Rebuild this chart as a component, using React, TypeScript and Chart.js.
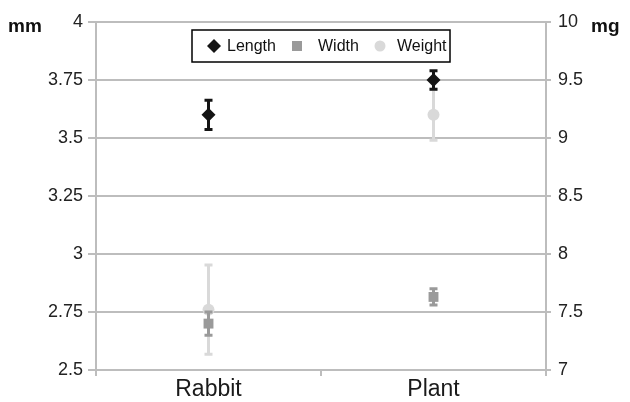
import React, { useEffect, useRef } from 'react';
import { Chart, registerables } from 'chart.js';

Chart.register(...registerables);

const categories = ['Rabbit', 'Plant'];

const lengthMean = [3.6, 3.75];
const lengthErr = [0.063, 0.04];
const widthMean = [2.7, 2.815];
const widthErr = [0.05, 0.035];
const weightMean = [7.52, 9.2];
const weightErr = [0.385, 0.22];

const leftTickValues = [2.5, 2.75, 3, 3.25, 3.5, 3.75, 4];
const rightTickValues = [7, 7.5, 8, 8.5, 9, 9.5, 10];

const seriesNames = ['Length', 'Width', 'Weight'];
const unitLeft = 'mm';
const unitRight = 'mg';

const FONT = "'Liberation Sans', Arial, Helvetica, sans-serif";
const GRID = '#bdbdbd';
const C_LEN = '#141414';
const C_WID = '#9a9a9a';
const C_WEI = '#d9d9d9';

const errorBarPlugin = {
  id: 'errorBars',
  beforeDatasetDraw(chart: any, args: any) {
    const ds = chart.data.datasets[args.index];
    const errs = ds.errors;
    if (!errs) return;
    const meta = args.meta;
    const yScale = chart.scales[meta.yAxisID];
    const ctx = chart.ctx;
    ctx.save();
    ctx.strokeStyle = ds.errorColor;
    ctx.lineWidth = 3;
    meta.data.forEach((el: any, i: number) => {
      const v = ds.data[i];
      const e = errs[i];
      const top = yScale.getPixelForValue(v + e);
      const bot = yScale.getPixelForValue(v - e);
      const x = el.x;
      ctx.beginPath();
      ctx.moveTo(x, top);
      ctx.lineTo(x, bot);
      ctx.moveTo(x - 4, top);
      ctx.lineTo(x + 4, top);
      ctx.moveTo(x - 4, bot);
      ctx.lineTo(x + 4, bot);
      ctx.stroke();
    });
    ctx.restore();
  },
};

function drawMarker(ctx: CanvasRenderingContext2D, style: string, x: number, y: number, color: string) {
  ctx.fillStyle = color;
  ctx.beginPath();
  if (style === 'rectRot') {
    ctx.moveTo(x, y - 7);
    ctx.lineTo(x + 7, y);
    ctx.lineTo(x, y + 7);
    ctx.lineTo(x - 7, y);
    ctx.closePath();
  } else if (style === 'rect') {
    ctx.rect(x - 5, y - 5, 10, 10);
  } else {
    ctx.arc(x, y, 5.5, 0, Math.PI * 2);
  }
  ctx.fill();
}

const decorPlugin = {
  id: 'decor',
  afterDraw(chart: any) {
    const ctx = chart.ctx as CanvasRenderingContext2D;
    const area = chart.chartArea;
    ctx.save();
    ctx.fillStyle = '#111';
    ctx.font = `bold 19px ${FONT}`;
    ctx.textBaseline = 'alphabetic';
    ctx.textAlign = 'left';
    ctx.fillText(unitLeft, 8, 32);
    ctx.fillText(unitRight, 591, 32);

    const cx = (area.left + area.right) / 2;
    const bx = cx - 129;
    const by = area.top + 8;
    ctx.strokeStyle = '#000';
    ctx.lineWidth = 1.5;
    ctx.fillStyle = '#fff';
    ctx.fillRect(bx, by, 258, 32);
    ctx.strokeRect(bx, by, 258, 32);
    const my = by + 16;
    const items = [
      { style: 'rectRot', color: C_LEN, mx: bx + 22, tx: bx + 35 },
      { style: 'rect', color: C_WID, mx: bx + 105, tx: bx + 126 },
      { style: 'circle', color: C_WEI, mx: bx + 188, tx: bx + 205 },
    ];
    ctx.font = `16px ${FONT}`;
    ctx.textBaseline = 'middle';
    items.forEach((it, i) => {
      drawMarker(ctx, it.style, it.mx, my, it.color);
      ctx.fillStyle = '#111';
      ctx.fillText(seriesNames[i], it.tx, my + 1);
    });
    ctx.restore();
  },
};

export default function App() {
  const ref = useRef<HTMLCanvasElement | null>(null);
  useEffect(() => {
    document.body.style.margin = '0';
    const canvas = ref.current!;
    const chart = new Chart(canvas, {
      type: 'line',
      data: {
        labels: categories,
        datasets: [
          {
            label: seriesNames[0],
            data: lengthMean,
            errors: lengthErr,
            errorColor: C_LEN,
            yAxisID: 'y',
            showLine: false,
            pointStyle: 'rectRot',
            pointRadius: 7,
            pointBorderWidth: 0,
            pointBackgroundColor: C_LEN,
            borderColor: C_LEN,
            order: 0,
          } as any,
          {
            label: seriesNames[1],
            data: widthMean,
            errors: widthErr,
            errorColor: C_WID,
            yAxisID: 'y',
            showLine: false,
            pointStyle: 'rect',
            pointRadius: 7,
            pointBorderWidth: 0,
            pointBackgroundColor: C_WID,
            borderColor: C_WID,
            order: 1,
          } as any,
          {
            label: seriesNames[2],
            data: weightMean,
            errors: weightErr,
            errorColor: C_WEI,
            yAxisID: 'y1',
            showLine: false,
            pointStyle: 'circle',
            pointRadius: 6,
            pointBorderWidth: 0,
            pointBackgroundColor: C_WEI,
            borderColor: C_WEI,
            order: 2,
          } as any,
        ],
      },
      options: {
        responsive: false,
        animation: false,
        devicePixelRatio: 1,
        layout: { padding: { top: 22, left: 0, right: 0, bottom: 0 } },
        plugins: {
          legend: { display: false },
          tooltip: { enabled: false },
        },
        scales: {
          x: {
            type: 'category',
            offset: true,
            grid: {
              offset: true,
              drawOnChartArea: false,
              drawTicks: true,
              tickLength: 6,
              color: GRID,
              lineWidth: 2,
            },
            border: { color: GRID, width: 2 },
            ticks: { font: { family: FONT, size: 23 }, color: '#1a1a1a', padding: 0 },
            afterFit: (s: any) => { s.height = 32; },
          },
          y: {
            type: 'linear',
            position: 'left',
            min: 2.5,
            max: 4,
            afterBuildTicks: (s: any) => { s.ticks = leftTickValues.map((v) => ({ value: v })); },
            ticks: {
              font: { family: FONT, size: 18 },
              color: '#222',
              padding: 5,
              callback: (v: any) => String(v),
            },
            grid: { color: GRID, lineWidth: 2, tickLength: 8 },
            border: { color: GRID, width: 2 },
            afterFit: (s: any) => { s.width = 96; },
          },
          y1: {
            type: 'linear',
            position: 'right',
            min: 7,
            max: 10,
            afterBuildTicks: (s: any) => { s.ticks = rightTickValues.map((v) => ({ value: v })); },
            ticks: {
              font: { family: FONT, size: 18 },
              color: '#222',
              padding: 7,
              callback: (v: any) => String(v),
            },
            grid: { drawOnChartArea: false, color: GRID, lineWidth: 2, tickLength: 5 },
            border: { color: GRID, width: 2 },
            afterFit: (s: any) => { s.width = 84; },
          },
        },
      } as any,
      plugins: [errorBarPlugin, decorPlugin],
    });
    return () => chart.destroy();
  }, []);
  return <canvas ref={ref} width={630} height={402} style={{ display: 'block' }} />;
}
